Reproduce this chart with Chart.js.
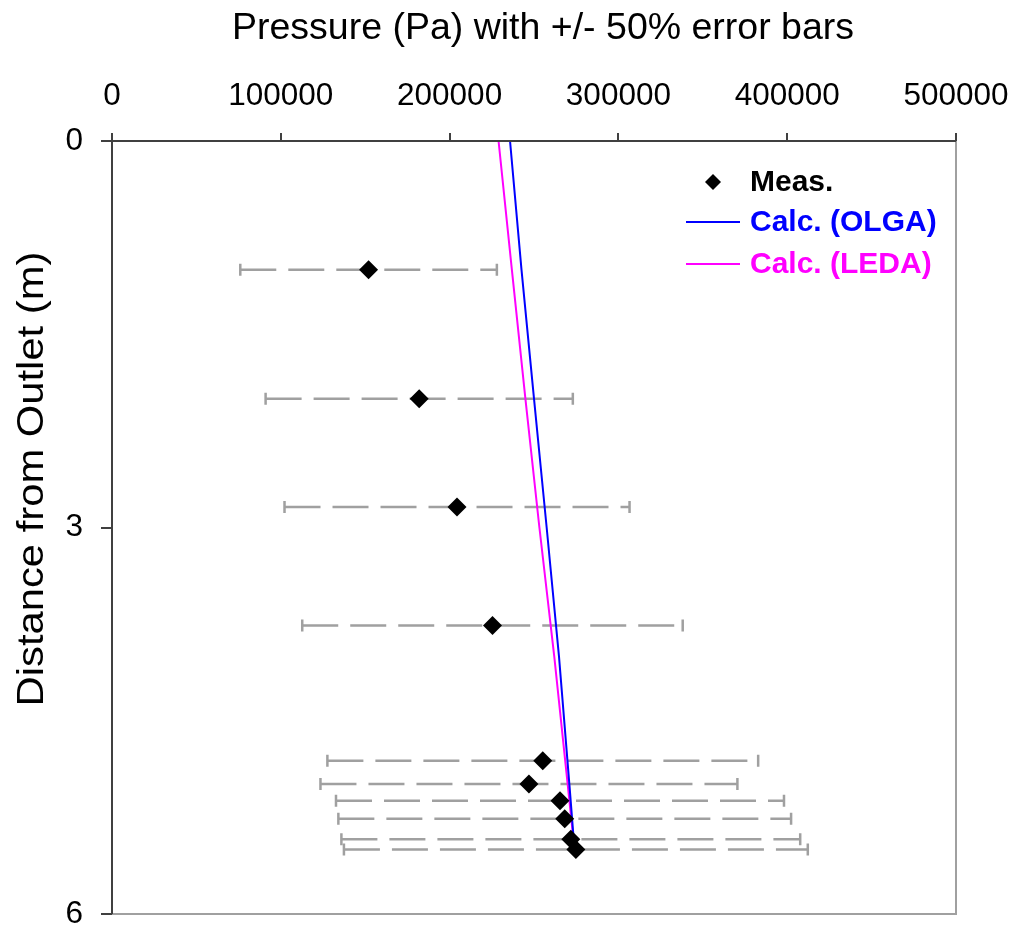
<!DOCTYPE html>
<html><head><meta charset="utf-8">
<script src="https://cdn.jsdelivr.net/npm/chart.js@4"></script>
<style>html,body{margin:0;padding:0;background:#fff}#wrap{width:1013px;height:928px}</style>
</head><body><div id="wrap"><canvas id="c" width="1013" height="928"></canvas></div>
<script>
const distance = [1.00, 2.00, 2.84, 3.76, 4.81, 4.99, 5.12, 5.26, 5.42, 5.50];
const measuredPressure = [152000, 182000, 204400, 225400, 255200, 247000, 265400, 268200, 271800, 274800];
const errorFraction = 0.5;
const calcDistance = [0, 1, 2, 3, 4, 5, 5.5];
const olgaPressure = [235800, 242600, 250000, 257500, 264800, 271000, 274000];
const ledaPressure = [229000, 236900, 244900, 253200, 262000, 270000, 274000];
const xTickValues = [0, 100000, 200000, 300000, 400000, 500000];
const yTickValues = [0, 3, 6];
const seriesNames = ['Meas.', 'Calc. (OLGA)', 'Calc. (LEDA)'];
const seriesColors = ['#000000', '#0000ff', '#ff00ff'];
const titleText = 'Pressure (Pa) with +/- 50% error bars';
const yTitleText = 'Distance from Outlet (m)';

const FONT = '"Liberation Sans", Arial, sans-serif';

const pts = (xs, ys) => xs.map((x, i) => ({x: x, y: ys[i]}));
const noPad = s => { s.paddingLeft = 0; s.paddingRight = 0; s.paddingTop = 0; s.paddingBottom = 0; };

const errorBars = {
  id: 'errorBars',
  beforeDatasetsDraw(chart) {
    const {ctx, scales: {x, y}} = chart;
    ctx.save();
    ctx.strokeStyle = '#a0a0a0';
    ctx.lineWidth = 2.5;
    distance.forEach((d, i) => {
      const v = measuredPressure[i];
      const x0 = x.getPixelForValue(v * (1 - errorFraction));
      const x1 = x.getPixelForValue(v * (1 + errorFraction));
      const py = y.getPixelForValue(d);
      ctx.setLineDash([36, 12]);
      ctx.beginPath(); ctx.moveTo(x0, py); ctx.lineTo(x1, py); ctx.stroke();
      ctx.setLineDash([]);
      ctx.beginPath();
      ctx.moveTo(x0, py - 6); ctx.lineTo(x0, py + 6);
      ctx.moveTo(x1, py - 6); ctx.lineTo(x1, py + 6);
      ctx.stroke();
    });
    ctx.restore();
  }
};

const frame = {
  id: 'frame',
  afterDraw(chart) {
    const {ctx, chartArea: a} = chart;
    ctx.save();
    ctx.strokeStyle = '#a0a0a0';
    ctx.lineWidth = 2;
    ctx.beginPath();
    ctx.moveTo(a.right, a.top); ctx.lineTo(a.right, a.bottom); ctx.lineTo(a.left, a.bottom);
    ctx.stroke();
    ctx.strokeStyle = '#404040';
    ctx.beginPath();
    ctx.moveTo(a.left, a.top); ctx.lineTo(a.right, a.top);
    ctx.moveTo(a.left, a.top); ctx.lineTo(a.left, a.bottom);
    ctx.stroke();
    // titles
    ctx.fillStyle = '#000';
    ctx.textAlign = 'center';
    ctx.textBaseline = 'middle';
    ctx.font = '37.5px ' + FONT;
    ctx.fillText(titleText, (a.left + a.right) / 2 + 9, 29);
    ctx.save();
    ctx.translate(33, 479);
    ctx.rotate(-Math.PI / 2);
    ctx.scale(1.16, 1);
    ctx.font = '36px ' + FONT;
    ctx.fillText(yTitleText, 0, 0);
    ctx.restore();
    // legend
    const lx = a.right - 243, tx = a.right - 206;
    const rows = [a.top + 41, a.top + 81, a.top + 123];
    ctx.textAlign = 'left';
    ctx.font = 'bold 30px ' + FONT;
    rows.forEach((ry, i) => {
      ctx.fillStyle = seriesColors[i];
      ctx.strokeStyle = seriesColors[i];
      if (i === 0) {
        ctx.beginPath();
        ctx.moveTo(lx - 8, ry); ctx.lineTo(lx, ry - 8); ctx.lineTo(lx + 8, ry); ctx.lineTo(lx, ry + 8);
        ctx.closePath(); ctx.fill();
      } else {
        ctx.lineWidth = 2;
        ctx.beginPath(); ctx.moveTo(lx - 27, ry); ctx.lineTo(lx + 27, ry); ctx.stroke();
      }
      ctx.fillText(seriesNames[i], tx, ry + 1);
    });
    ctx.restore();
  }
};

new Chart(document.getElementById('c'), {
  type: 'scatter',
  data: {
    datasets: [
      {label: seriesNames[0], data: pts(measuredPressure, distance), pointStyle: 'rectRot', pointRadius: 9.5,
       backgroundColor: '#000', borderColor: '#000', borderWidth: 0, showLine: false},
      {label: seriesNames[1], data: pts(olgaPressure, calcDistance), showLine: true, pointRadius: 0,
       borderColor: '#0000ff', borderWidth: 2, tension: 0},
      {label: seriesNames[2], data: pts(ledaPressure, calcDistance), showLine: true, pointRadius: 0,
       borderColor: '#ff00ff', borderWidth: 2, tension: 0}
    ]
  },
  options: {
    responsive: false,
    animation: false,
    devicePixelRatio: 1,
    layout: {padding: {left: 0, top: 0, right: 57, bottom: 14}},
    plugins: {legend: {display: false}, tooltip: {enabled: false}, title: {display: false}},
    scales: {
      x: {
        type: 'linear', position: 'top', min: 0, max: 500000,
        afterBuildTicks: s => { s.ticks = xTickValues.map(v => ({value: v})); },
        afterFit: s => { s.height = 141; noPad(s); },
        ticks: {color: '#000', font: {family: FONT, size: 31.5}, padding: 18, maxRotation: 0, autoSkip: false,
                callback: v => String(v)},
        grid: {drawOnChartArea: false, drawTicks: true, tickLength: 8, color: '#404040', lineWidth: 2},
        border: {display: true, color: '#404040', width: 2}
      },
      y: {
        type: 'linear', position: 'left', reverse: true, min: 0, max: 6,
        afterBuildTicks: s => { s.ticks = yTickValues.map(v => ({value: v})); },
        afterFit: s => { s.width = 112; noPad(s); },
        ticks: {color: '#000', font: {family: FONT, size: 31.5}, padding: 18, autoSkip: false,
                callback: v => String(v)},
        grid: {drawOnChartArea: false, drawTicks: true, tickLength: 11, color: '#404040', lineWidth: 2},
        border: {display: true, color: '#404040', width: 2}
      }
    }
  },
  plugins: [errorBars, frame]
});
</script></body></html>
